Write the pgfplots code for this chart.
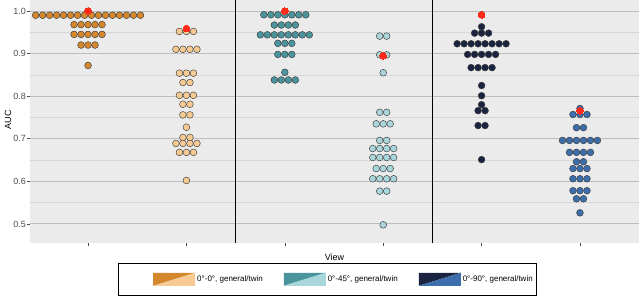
\documentclass[border=0pt]{standalone}
\usepackage{pgfplots}
\pgfplotsset{compat=1.18}
\usepackage{fontspec}
\setmainfont{Liberation Sans}
\definecolor{bg}{HTML}{EBEBEB}
\definecolor{gmaj}{HTML}{BDBDBD}
\definecolor{gmin}{HTML}{D6D6D6}
\definecolor{tickc}{HTML}{4D4D4D}
\definecolor{dborder}{HTML}{3A3A3A}
\definecolor{cA}{HTML}{D4872C}
\definecolor{cB}{HTML}{F6CA92}
\definecolor{cC}{HTML}{4A959D}
\definecolor{cD}{HTML}{A8D6DB}
\definecolor{cE}{HTML}{1A2440}
\definecolor{cF}{HTML}{3D6EAC}
\definecolor{redc}{HTML}{FF2A1A}
\begin{document}
\begin{tikzpicture}
\begin{axis}[
  scale only axis, width=609pt, height=243.3pt,
  xmin=0.41, xmax=6.6, ymin=0.4545, ymax=1.0258,
  axis background/.style={fill=bg},
  axis line style={draw=none},
  xtick={1,2,3,4,5,6}, xticklabels={,,,,,},
  ytick={0.5,0.6,0.7,0.8,0.9,1.0}, yticklabels={0.5,0.6,0.7,0.8,0.9,1.0},
  minor ytick={0.55,0.65,0.75,0.85,0.95},
  ymajorgrids, yminorgrids,
  major grid style={color=gmaj, line width=0.9pt},
  minor grid style={color=gmin, line width=0.5pt},
  tick align=outside, major tick length=3pt, minor tick length=0pt,
  tick style={color=tickc, line width=0.5pt},
  xtick pos=bottom, ytick pos=left,
  yticklabel style={font=\fontsize{9}{10}\selectfont, text=tickc, inner sep=1pt},
  extra x ticks={2.5,4.5}, extra x tick labels={},
  extra x tick style={grid=major, major grid style={black, line width=1.6pt}, major tick length=0pt},
  ylabel={AUC}, ylabel style={at={(axis description cs:-0.036,0.507)}, anchor=center, font=\fontsize{9}{10}\selectfont},
  xlabel={View}, xlabel style={at={(axis description cs:0.5,-0.056)}, anchor=center, font=\fontsize{9}{10}\selectfont},
  legend columns=3,
  legend style={at={(axis description cs:0.4885,-0.081)}, anchor=north, draw=black, line width=0.6pt, fill=white,
    inner xsep=2pt, inner ysep=0pt, font=\fontsize{8}{9}\selectfont,
    nodes={inner sep=2pt},
    /tikz/every even column/.append style={column sep=19pt}},
  legend cell align=left,
  dots/.style={only marks, mark=*, mark size=3.4pt, mark options={fill=#1, draw=dborder, line width=0.45pt}},
]
\addlegendimage{legend image code/.code={\path[draw=none,fill=none] (-33pt,-16pt) rectangle (42pt,16pt);
  \fill[cA, draw=none] (0pt,-6.5pt) -- (0pt,6.5pt) -- (42pt,6.5pt) -- cycle;
  \fill[cB, draw=none] (0pt,-6.5pt) -- (42pt,6.5pt) -- (42pt,-6.5pt) -- cycle;}}
\addlegendentry{0°-0°, general/twin}
\addlegendimage{legend image code/.code={\path[draw=none,fill=none] (0pt,-16pt) rectangle (42pt,16pt);
  \fill[cC, draw=none] (0pt,-6.5pt) -- (0pt,6.5pt) -- (42pt,6.5pt) -- cycle;
  \fill[cD, draw=none] (0pt,-6.5pt) -- (42pt,6.5pt) -- (42pt,-6.5pt) -- cycle;}}
\addlegendentry{0°-45°, general/twin}
\addlegendimage{legend image code/.code={\path[draw=none,fill=none] (0pt,-16pt) rectangle (42pt,16pt);
  \fill[cE, draw=none] (0pt,-6.5pt) -- (0pt,6.5pt) -- (42pt,6.5pt) -- cycle;
  \fill[cF, draw=none] (0pt,-6.5pt) -- (42pt,6.5pt) -- (42pt,-6.5pt) -- cycle;}}
\addlegendentry{0°-90°, general/twin}

% 0-0 general
\addplot[dots=cA, forget plot] coordinates {
(0.4675,0.990)(0.5385,0.990)(0.6095,0.990)(0.6805,0.990)(0.7515,0.990)(0.8225,0.990)(0.8935,0.990)(0.9645,0.990)
(1.0355,0.990)(1.1065,0.990)(1.1775,0.990)(1.2485,0.990)(1.3195,0.990)(1.3905,0.990)(1.4615,0.990)(1.5325,0.990)
(0.858,0.968)(0.929,0.968)(1,0.968)(1.071,0.968)(1.142,0.968)
(0.858,0.945)(0.929,0.945)(1,0.945)(1.071,0.945)(1.142,0.945)
(0.929,0.920)(1,0.920)(1.071,0.920)
(1,0.872)
};
% 0-0 twin
\addplot[dots=cB, forget plot] coordinates {
(1.929,0.952)(2,0.952)(2.071,0.952)
(1.8935,0.910)(1.9645,0.910)(2.0355,0.910)(2.1065,0.910)
(1.929,0.854)(2,0.854)(2.071,0.854)
(1.9645,0.832)(2.0355,0.832)
(1.929,0.802)(2,0.802)(2.071,0.802)
(1.9645,0.781)(2.0355,0.781)
(1.9645,0.756)(2.0355,0.756)
(2,0.727)
(1.9645,0.703)(2.0355,0.703)
(1.8935,0.689)(1.9645,0.689)(2.0355,0.689)(2.1065,0.689)
(1.929,0.668)(2,0.668)(2.071,0.668)
(2,0.602)
};
% 0-45 general
\addplot[dots=cC, forget plot] coordinates {
(2.787,0.991)(2.858,0.991)(2.929,0.991)(3,0.991)(3.071,0.991)(3.142,0.991)(3.213,0.991)
(2.8935,0.967)(2.9645,0.967)(3.0355,0.967)(3.1065,0.967)
(2.7515,0.944)(2.8225,0.944)(2.8935,0.944)(2.9645,0.944)(3.0355,0.944)(3.1065,0.944)(3.1775,0.944)(3.2485,0.944)
(2.929,0.924)(3,0.924)(3.071,0.924)
(2.929,0.898)(3,0.898)(3.071,0.898)
(3,0.856)
(2.8935,0.838)(2.9645,0.838)(3.0355,0.838)(3.1065,0.838)
};
% 0-45 twin
\addplot[dots=cD, forget plot] coordinates {
(3.9645,0.941)(4.0355,0.941)
(3.9645,0.897)(4.0355,0.897)
(4,0.855)
(3.9645,0.762)(4.0355,0.762)
(3.929,0.735)(4,0.735)(4.071,0.735)
(3.9645,0.696)(4.0355,0.696)
(3.8935,0.677)(3.9645,0.677)(4.0355,0.677)(4.1065,0.677)
(3.8935,0.656)(3.9645,0.656)(4.0355,0.656)(4.1065,0.656)
(3.929,0.630)(4,0.630)(4.071,0.630)
(3.8935,0.606)(3.9645,0.606)(4.0355,0.606)(4.1065,0.606)
(3.9645,0.577)(4.0355,0.577)
(4,0.498)
};
% 0-90 general
\addplot[dots=cE, forget plot] coordinates {
(5,0.991)
(5,0.963)
(4.929,0.948)(5,0.948)(5.071,0.948)
(4.7515,0.923)(4.8225,0.923)(4.8935,0.923)(4.9645,0.923)(5.0355,0.923)(5.1065,0.923)(5.1775,0.923)(5.2485,0.923)
(4.858,0.898)(4.929,0.898)(5,0.898)(5.071,0.898)(5.142,0.898)
(4.8935,0.867)(4.9645,0.867)(5.0355,0.867)(5.1065,0.867)
(5,0.825)
(5,0.801)
(5,0.780)
(4.9645,0.766)(5.0355,0.766)
(4.9645,0.731)(5.0355,0.731)
(5,0.651)
};
% 0-90 twin
\addplot[dots=cF, forget plot] coordinates {
(6,0.771)
(5.929,0.757)(6,0.757)(6.071,0.757)
(5.9645,0.726)(6.0355,0.726)
(5.8225,0.696)(5.8935,0.696)(5.9645,0.696)(6.0355,0.696)(6.1065,0.696)(6.1775,0.696)
(5.8935,0.668)(5.9645,0.668)(6.0355,0.668)(6.1065,0.668)
(5.9645,0.646)(6.0355,0.646)
(5.929,0.630)(6,0.630)(6.071,0.630)
(5.929,0.606)(6,0.606)(6.071,0.606)
(5.929,0.578)(6,0.578)(6.071,0.578)
(5.9645,0.559)(6.0355,0.559)
(6,0.526)
};
% highlighted values
\addplot[redc, only marks, mark=*, mark size=3.4pt, mark options={solid, fill=redc, draw=redc, line width=0pt}, forget plot] coordinates {
(1,1.000)(2,0.959)(3,1.000)(4,0.895)(5,0.991)(6,0.766)
};
\end{axis}
\pgfresetboundingbox
\path (current axis.north west) ++(-30pt,0pt) rectangle ++(640pt,-296pt);
\end{tikzpicture}
\end{document}
